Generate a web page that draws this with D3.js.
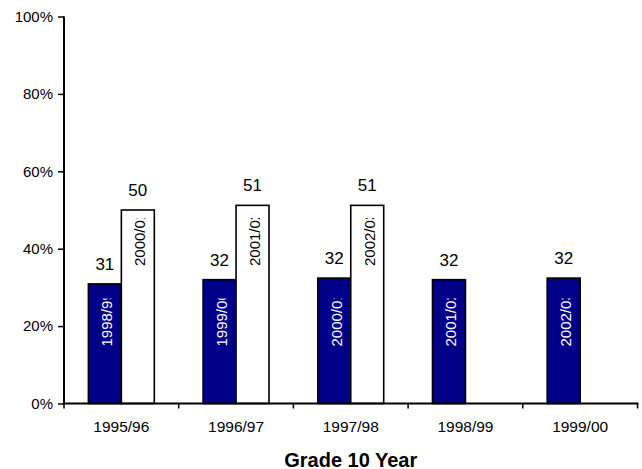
<!DOCTYPE html>
<html>
<head>
<meta charset="utf-8">
<script src="https://cdn.jsdelivr.net/npm/d3@7"></script>
<style>
  html, body { margin: 0; padding: 0; background: #fff; }
  svg { display: block; }
  text { font-family: Arial, "Liberation Sans", sans-serif; }
</style>
</head>
<body>
<svg id="chart" width="642" height="469"></svg>
<script>
// ---- data ----
const categories = ["1995/96", "1996/97", "1997/98", "1998/99", "1999/00"];
const grade10Values = [30.9, 32.0, 32.4, 32.0, 32.4];
const grade10Labels = ["31", "32", "32", "32", "32"];
const grade10Years = ["1998/99", "1999/00", "2000/01", "2001/02", "2002/03"];
const grade12Values = [50.0, 51.2, 51.2, null, null];
const grade12Labels = ["50", "51", "51", null, null];
const grade12Years = ["2000/01", "2001/02", "2002/03", null, null];
const yTicks = [0, 20, 40, 60, 80, 100];
const xTitle = "Grade 10 Year";

// ---- layout ----
const svg = d3.select("#chart");
const mLeft = 64, mRight = 637.5, mTop = 16.5, mBottom = 403.5;

const x = d3.scaleBand().domain(categories).range([mLeft, mRight]).padding(0);
const x1 = d3.scaleBand().domain([0, 1]).range([0, x.bandwidth()])
  .paddingInner(0).paddingOuter(0.74);
const y = d3.scaleLinear().domain([0, 100]).range([mBottom, mTop]);

const defs = svg.append("defs");
defs.append("clipPath").attr("id", "lblclip")
  .append("rect").attr("x", -3).attr("y", -12).attr("width", 51).attr("height", 24);

// bars
const series = [
  { values: grade10Values, labels: grade10Labels, years: grade10Years, idx: 0, fill: "#000088", txt: "#ffffff", anchorOff: 57 },
  { values: grade12Values, labels: grade12Labels, years: grade12Years, idx: 1, fill: "#ffffff", txt: "#000000", anchorOff: 137.5 }
];

series.forEach(s => {
  const data = categories.map((c, i) => ({ c, v: s.values[i], l: s.labels[i], yr: s.years[i] }))
    .filter(d => d.v != null);
  const g = svg.append("g");
  g.selectAll("rect").data(data).join("rect")
    .attr("x", d => x(d.c) + x1(s.idx))
    .attr("y", d => y(d.v))
    .attr("width", x1.bandwidth())
    .attr("height", d => y(0) - y(d.v))
    .attr("fill", s.fill)
    .attr("stroke", "#000")
    .attr("stroke-width", 1.6);

  // value labels
  g.selectAll("text.val").data(data).join("text")
    .attr("class", "val")
    .attr("x", d => x(d.c) + x1(s.idx) + x1.bandwidth() / 2)
    .attr("y", d => y(d.v) - 14)
    .attr("text-anchor", "middle")
    .attr("font-size", 17)
    .attr("fill", "#000")
    .text(d => d.l);

  // rotated year labels inside bars
  g.selectAll("text.yr").data(data).join("text")
    .attr("class", "yr")
    .attr("transform", d => `translate(${x(d.c) + x1(s.idx) + x1.bandwidth() / 2 + 2},${y(0) - s.anchorOff}) rotate(-90)`)
    .attr("text-anchor", "start")
    .attr("dominant-baseline", "central")
    .attr("font-size", 15)
    .attr("fill", s.txt)
    .attr("clip-path", "url(#lblclip)")
    .text(d => d.yr);
});

// y axis
const yAxis = d3.axisLeft(y).tickValues(yTicks).tickFormat(d => d + "%").tickSize(6).tickPadding(5);
const gy = svg.append("g").attr("transform", `translate(${mLeft},0)`).call(yAxis);
gy.select(".domain").attr("stroke", "#000").attr("stroke-width", 2).attr("d", `M0,${mTop}V${mBottom + 1}`);
gy.selectAll(".tick line").attr("stroke", "#000").attr("stroke-width", 1.5);
gy.selectAll(".tick text").attr("font-size", 15).attr("fill", "#000")
  .attr("font-family", "Arial, 'Liberation Sans', sans-serif");

// x axis
const bounds = categories.map(c => x(c)).concat([mRight]);
const gx = svg.append("g");
gx.append("line").attr("x1", mLeft - 1).attr("x2", mRight + 1).attr("y1", mBottom).attr("y2", mBottom)
  .attr("stroke", "#000").attr("stroke-width", 2);
gx.selectAll("line.tk").data(bounds).join("line").attr("class", "tk")
  .attr("x1", d => d).attr("x2", d => d).attr("y1", mBottom).attr("y2", mBottom + 5)
  .attr("stroke", "#000").attr("stroke-width", 1.5);
gx.selectAll("text").data(categories).join("text")
  .attr("x", d => x(d) + x.bandwidth() / 2)
  .attr("y", 431.5)
  .attr("text-anchor", "middle")
  .attr("font-size", 15.5)
  .attr("fill", "#000")
  .text(d => d);

svg.append("text")
  .attr("x", (mLeft + mRight) / 2)
  .attr("y", 466.5)
  .attr("text-anchor", "middle")
  .attr("font-size", 20)
  .attr("font-weight", "bold")
  .attr("fill", "#000")
  .text(xTitle);
</script>
</body>
</html>
